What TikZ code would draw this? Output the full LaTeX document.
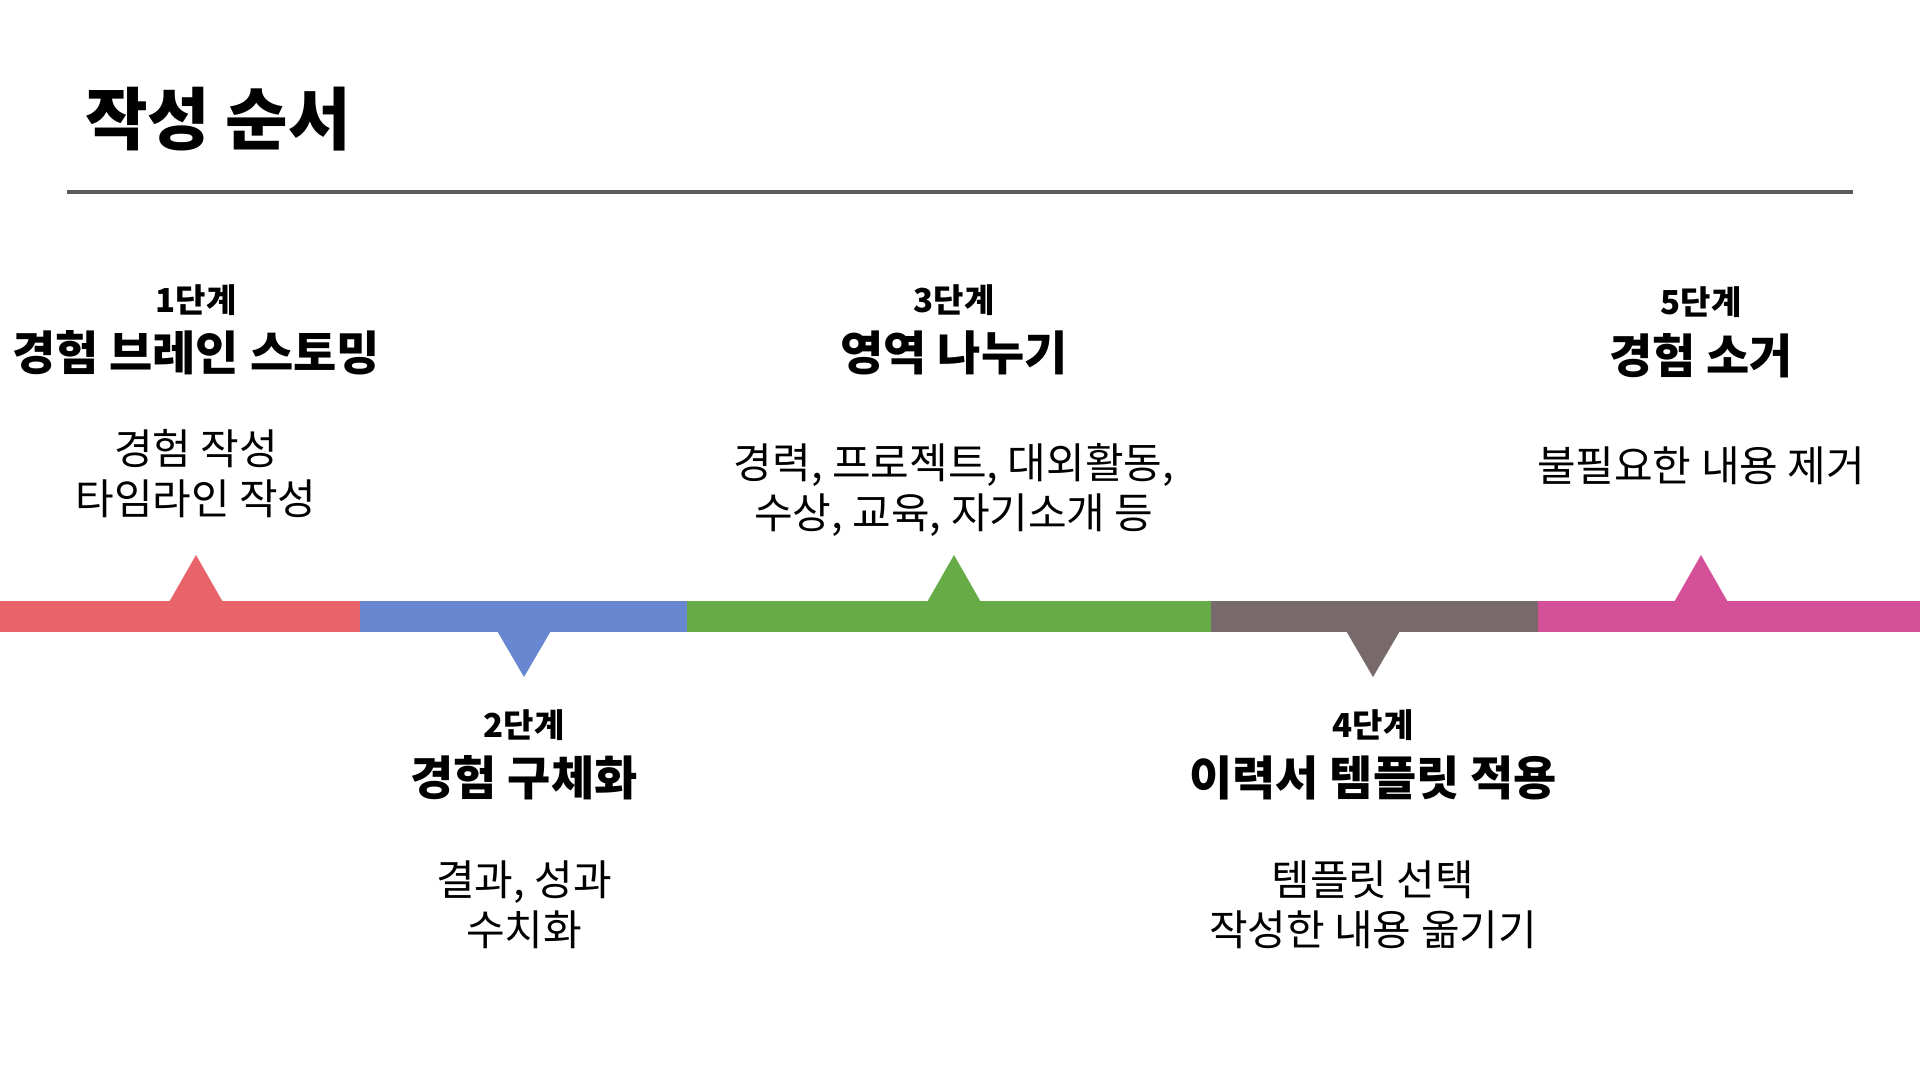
\documentclass[tikz,border=0pt]{standalone}
\usepackage{fontspec}
\setmainfont{Noto Sans CJK KR}
\definecolor{stepred}{HTML}{E8636A}
\definecolor{stepblue}{HTML}{6987D0}
\definecolor{stepgreen}{HTML}{67AB47}
\definecolor{stepbrown}{HTML}{786A6A}
\definecolor{steppink}{HTML}{D4519A}
\definecolor{rulegray}{HTML}{5A5A5A}
\begin{document}
\begin{tikzpicture}[
    x=1pt, y=-1pt,
    every node/.style={inner sep=0pt, align=center},
    steptag/.style={font=\fontsize{33}{36}\selectfont\bfseries},
    stephead/.style={font=\fontsize{47}{52}\selectfont\bfseries},
    stepdesc/.style={font=\fontsize{42}{50}\selectfont}
]
    \useasboundingbox (0,0) rectangle (1920,1080);
    \node[anchor=west, font=\fontsize{68}{74}\selectfont\bfseries] (title) at (85,119) {작성 순서};
    \coordinate (ruleL) at (67,192);
    \coordinate (ruleR) at (1853,192);
    \draw[line width=4pt, rulegray] (ruleL) -- (ruleR);

    % timeline bar
    \fill[stepred]   (0,601)    rectangle (360,632);
    \fill[stepblue]  (360,601)  rectangle (687,632);
    \fill[stepgreen] (687,601)  rectangle (1211,632);
    \fill[stepbrown] (1211,601) rectangle (1538,632);
    \fill[steppink]  (1538,601) rectangle (1920,632);

    % markers
    \fill[stepred]   (196,555)  -- (224,604) -- (168,604) -- cycle;
    \fill[stepblue]  (524,677)  -- (552,629) -- (496,629) -- cycle;
    \fill[stepgreen] (954,555)  -- (982,604) -- (926,604) -- cycle;
    \fill[stepbrown] (1373,677) -- (1401,629) -- (1345,629) -- cycle;
    \fill[steppink]  (1701,555) -- (1729,604) -- (1673,604) -- cycle;

    % step 1
    \node[steptag]  (tag1)  at (196,300) {1단계};
    \node[stephead] (head1) at (196,353) {경험 브레인 스토밍};
    \node[stepdesc] (desc1) at (196,474) {경험 작성\\타임라인 작성};

    % step 2
    \node[steptag]  (tag2)  at (524,725) {2단계};
    \node[stephead] (head2) at (524,778) {경험 구체화};
    \node[stepdesc] (desc2) at (524,905) {결과, 성과\\수치화};

    % step 3
    \node[steptag]  (tag3)  at (954,300) {3단계};
    \node[stephead] (head3) at (954,353) {영역 나누기};
    \node[stepdesc] (desc3) at (954,490) {경력, 프로젝트, 대외활동,\\수상, 교육, 자기소개 등};

    % step 4
    \node[steptag]  (tag4)  at (1373,725) {4단계};
    \node[stephead] (head4) at (1373,778) {이력서 템플릿 적용};
    \node[stepdesc] (desc4) at (1373,905) {템플릿 선택\\작성한 내용 옮기기};

    % step 5
    \node[steptag]  (tag5)  at (1701,302) {5단계};
    \node[stephead] (head5) at (1701,356) {경험 소거};
    \node[stepdesc] (desc5) at (1701,466) {불필요한 내용 제거};
\end{tikzpicture}
\end{document}
